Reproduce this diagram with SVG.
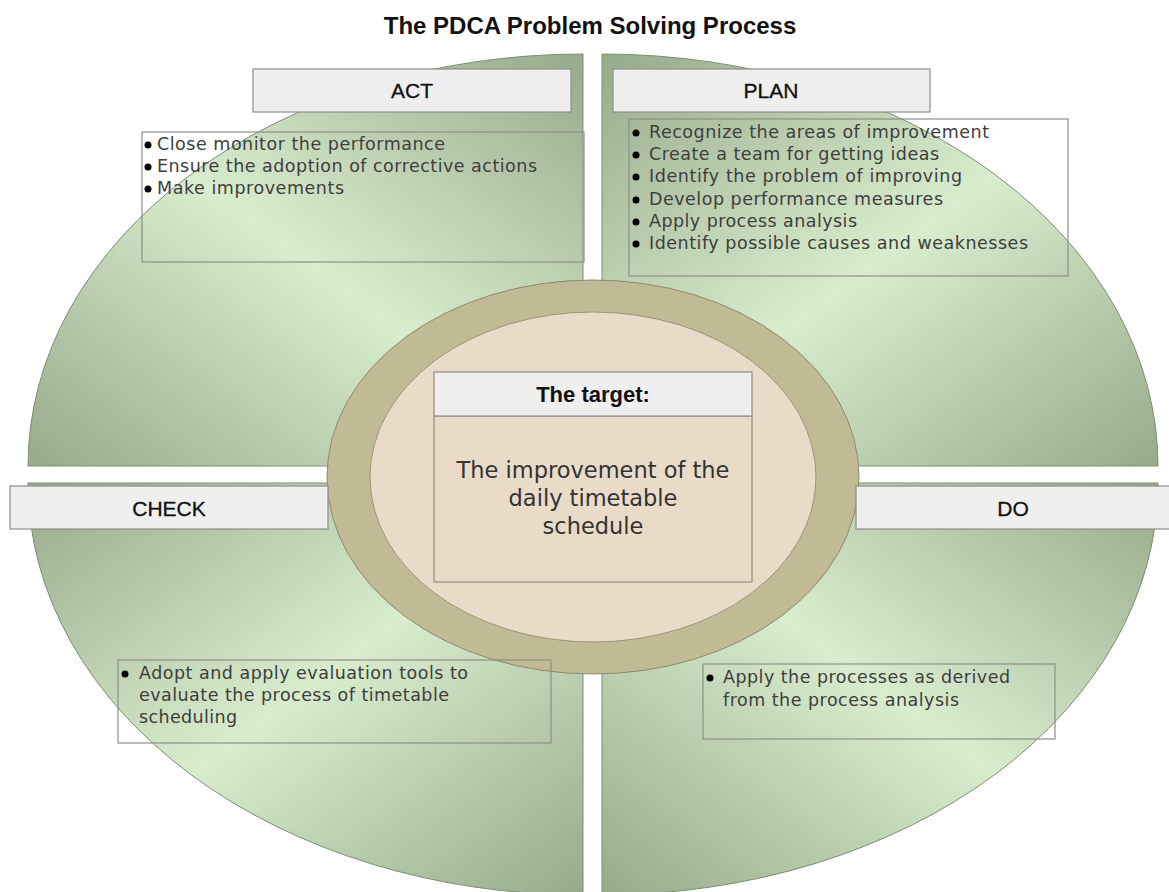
<svg xmlns="http://www.w3.org/2000/svg" width="1169" height="892" viewBox="0 0 1169 892">
<defs>
<linearGradient id="gA" x1="1" y1="0" x2="0" y2="1"><stop offset="0" stop-color="#97aa8b"/><stop offset="0.5" stop-color="#d8ecce"/><stop offset="1" stop-color="#97aa8b"/></linearGradient>
<linearGradient id="gB" x1="0" y1="0" x2="1" y2="1"><stop offset="0" stop-color="#97aa8b"/><stop offset="0.5" stop-color="#d8ecce"/><stop offset="1" stop-color="#97aa8b"/></linearGradient>
<style>
.q{stroke:#7e8d75;stroke-width:1}
.hdr{fill:#efefef;stroke:#8c8c8c;stroke-width:1.2}
.ht{font-family:"Liberation Sans",Arial,sans-serif;font-size:21px;fill:#111;stroke:#111;stroke-width:0.3;text-anchor:middle}
.box{fill:none;stroke:#8a8f86;stroke-width:1.2}
.bt{font-family:"DejaVu Sans",Verdana,sans-serif;font-size:17.5px;fill:#3e3e3e}
.dot{fill:#000}
</style>
</defs>
<rect width="1169" height="892" fill="#fff"/>
<text x="590" y="34" font-family="'Liberation Sans',Arial,sans-serif" font-size="24" font-weight="bold" text-anchor="middle" fill="#111">The PDCA Problem Solving Process</text>

<g id="quadrants">
<path id="q-act" class="q" fill="url(#gA)" d="M583,466 L28,466 A555,412 0 0 1 583,54 Z"/>
<path id="q-plan" class="q" fill="url(#gB)" d="M602,466 L602,54 A556,412 0 0 1 1158,466 Z"/>
<path id="q-check" class="q" fill="url(#gB)" d="M583,483 L583,895 A555,412 0 0 1 28,483 Z"/>
<path id="q-do" class="q" fill="url(#gA)" d="M602,483 L1158,483 A556,412 0 0 1 602,895 Z"/>
</g>

<g id="ring">
<ellipse cx="593" cy="477" rx="266" ry="197" fill="#c0bb94" stroke="#8e8a6a" stroke-width="1"/>
<ellipse cx="593" cy="477" rx="223" ry="165" fill="#eadbc8" stroke="#9c9478" stroke-width="1"/>
</g>

<g id="target">
<rect x="434" y="416" width="318" height="166" fill="#eadbc8" stroke="#8f8a80" stroke-width="1.2"/>
<rect x="434" y="372" width="318" height="44" class="hdr"/>
<text x="593" y="402" font-family="'Liberation Sans',Arial,sans-serif" font-size="22" font-weight="bold" text-anchor="middle" fill="#111">The target:</text>
<g font-family="'DejaVu Sans',Verdana,sans-serif" font-size="22.5" fill="#333" text-anchor="middle">
<text x="593" y="478">The improvement of the</text>
<text x="593" y="506">daily timetable</text>
<text x="593" y="534">schedule</text>
</g>
</g>

<g id="act">
<rect x="253" y="69" width="318" height="43" class="hdr"/>
<text x="412" y="98" class="ht">ACT</text>
<rect x="142" y="132" width="442" height="130" class="box"/>
<circle cx="148" cy="145" r="3.5" class="dot"/>
<circle cx="148" cy="167" r="3.5" class="dot"/>
<circle cx="148" cy="189" r="3.5" class="dot"/>
<text x="157" y="150" class="bt" textLength="288">Close monitor the performance</text>
<text x="157" y="172" class="bt" textLength="380">Ensure the adoption of corrective actions</text>
<text x="157" y="194" class="bt" textLength="187">Make improvements</text>
</g>

<g id="plan">
<rect x="613" y="69" width="317" height="43" class="hdr"/>
<text x="771" y="98" class="ht">PLAN</text>
<rect x="629" y="119" width="439" height="157" class="box"/>
<circle cx="636" cy="133" r="3.5" class="dot"/>
<circle cx="636" cy="155" r="3.5" class="dot"/>
<circle cx="636" cy="177" r="3.5" class="dot"/>
<circle cx="636" cy="200" r="3.5" class="dot"/>
<circle cx="636" cy="222" r="3.5" class="dot"/>
<circle cx="636" cy="244" r="3.5" class="dot"/>
<text x="649" y="138" class="bt" textLength="340">Recognize the areas of improvement</text>
<text x="649" y="160" class="bt" textLength="290">Create a team for getting ideas</text>
<text x="649" y="182" class="bt" textLength="313">Identify the problem of improving</text>
<text x="649" y="205" class="bt" textLength="294">Develop performance measures</text>
<text x="649" y="227" class="bt" textLength="208">Apply process analysis</text>
<text x="649" y="249" class="bt" textLength="379">Identify possible causes and weaknesses</text>
</g>

<g id="check">
<rect x="10" y="486" width="318" height="43" class="hdr"/>
<text x="169" y="516" class="ht">CHECK</text>
<rect x="118" y="660" width="433" height="83" class="box"/>
<circle cx="125" cy="674" r="3.5" class="dot"/>
<text x="139" y="679" class="bt" textLength="329">Adopt and apply evaluation tools to</text>
<text x="139" y="701" class="bt" textLength="310">evaluate the process of timetable</text>
<text x="139" y="723" class="bt" textLength="98">scheduling</text>
</g>

<g id="do">
<rect x="856" y="486" width="318" height="43" class="hdr"/>
<text x="1013" y="516" class="ht">DO</text>
<rect x="703" y="664" width="352" height="75" class="box"/>
<circle cx="710" cy="678" r="3.5" class="dot"/>
<text x="723" y="683" class="bt" textLength="287">Apply the processes as derived</text>
<text x="723" y="706" class="bt" textLength="236">from the process analysis</text>
</g>
</svg>
